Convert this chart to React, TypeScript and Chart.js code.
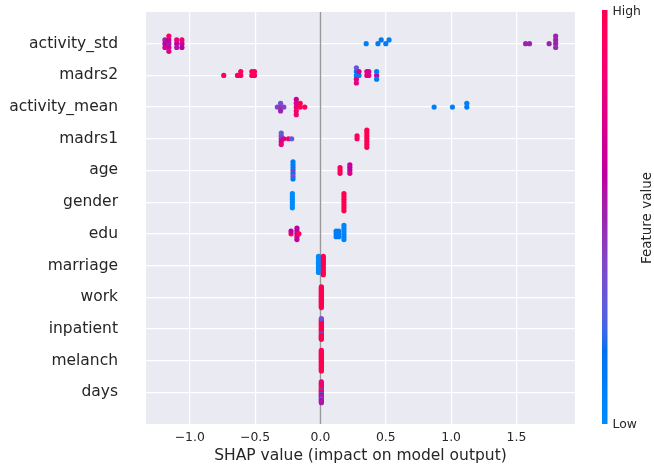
import React, { useEffect, useRef } from "react";
import { Chart, registerables } from "chart.js";

Chart.register(...registerables);

// ---------- data ----------
const features = [
  "activity_std",
  "madrs2",
  "activity_mean",
  "madrs1",
  "age",
  "gender",
  "edu",
  "marriage",
  "work",
  "inpatient",
  "melanch",
  "days",
];

const xTickValues = [-1.0, -0.5, 0.0, 0.5, 1.0, 1.5];
const xMin = -1.335;
const xMax = 1.948;

// SHAP values and normalised feature values (0 = low, 1 = high) per feature
const activityStdShap = [-1.19, -1.19, -1.19, -1.16, -1.16, -1.16, -1.16, -1.16, -1.1, -1.1, -1.1, -1.06, -1.06, -1.06, 0.35, 0.44, 0.465, 0.5, 0.525, 1.57, 1.6, 1.75, 1.8, 1.8, 1.8, 1.8];
const activityStdValue = [0.6, 0.55, 0.7, 0.55, 0.6, 0.65, 0.95, 0.75, 0.6, 0.8, 0.55, 0.65, 0.85, 0.6, 0.08, 0.1, 0.12, 0.1, 0.08, 0.5, 0.5, 0.5, 0.5, 0.52, 0.48, 0.5];

const madrs2Shap = [-0.74, -0.635, -0.61, -0.61, -0.525, -0.525, -0.505, -0.505, 0.275, 0.275, 0.275, 0.275, 0.275, 0.295, 0.295, 0.355, 0.355, 0.37, 0.37, 0.43, 0.43, 0.43];
const madrs2Value = [0.95, 0.95, 0.95, 0.9, 0.95, 0.95, 0.95, 0.92, 0.1, 0.15, 0.75, 0.3, 0.8, 0.1, 0.7, 0.8, 0.75, 0.75, 0.7, 0.65, 0.1, 0.1];

const activityMeanShap = [-0.33, -0.305, -0.305, -0.305, -0.28, -0.185, -0.185, -0.185, -0.185, -0.185, -0.155, -0.155, -0.12, 0.87, 1.01, 1.12, 1.12];
const activityMeanValue = [0.4, 0.45, 0.35, 0.5, 0.4, 0.8, 0.7, 0.9, 0.65, 0.85, 0.95, 1.0, 0.95, 0.08, 0.08, 0.1, 0.08];

const madrs1Shap = [-0.3, -0.3, -0.3, -0.3, -0.3, -0.28, -0.245, -0.22, 0.28, 0.28, 0.355, 0.355, 0.355, 0.355, 0.355, 0.355, 0.355];
const madrs1Value = [0.5, 0.4, 0.7, 0.3, 0.8, 0.75, 0.8, 0.3, 0.95, 0.95, 1, 1, 1, 1, 1, 1, 1];

const ageShap = [-0.21, -0.21, -0.21, -0.21, -0.21, -0.21, -0.21, 0.15, 0.15, 0.15, 0.225, 0.225, 0.225, 0.225];
const ageValue = [0.45, 0.1, 0.15, 0.1, 0.35, 0.1, 0.12, 0.95, 0.95, 0.95, 0.65, 0.6, 0.7, 0.62];

const genderShap = [-0.215, -0.215, -0.215, -0.215, -0.215, -0.215, 0.18, 0.18, 0.18, 0.18, 0.18, 0.18, 0.18];
const genderValue = [0, 0, 0, 0, 0, 0, 1, 1, 1, 1, 1, 1, 1];

const eduShap = [-0.225, -0.225, -0.18, -0.18, -0.18, -0.18, -0.18, -0.165, 0.12, 0.12, 0.12, 0.14, 0.14, 0.14, 0.18, 0.18, 0.18, 0.18, 0.18, 0.18];
const eduValue = [0.95, 0.6, 0.6, 0.65, 0.7, 0.6, 0.62, 0.95, 0.1, 0.1, 0.1, 0.08, 0.1, 0.1, 0.05, 0.05, 0.08, 0.05, 0.05, 0.05];

const marriageShap = [-0.015, -0.015, -0.015, -0.015, -0.015, -0.015, -0.015, -0.015, 0.022, 0.022, 0.022, 0.022, 0.022, 0.022, 0.022, 0.022, 0.022];
const marriageValue = [0, 0, 0, 0, 0, 0, 0, 0, 1, 1, 1, 1, 1, 1, 1, 1, 1];

const workShap = [0.007, 0.007, 0.007, 0.007, 0.007, 0.007, 0.007, 0.007, 0.007, 0.007, 0.007, 0.007, 0.007, 0.007, 0.007, 0.007, 0.007, 0.007, 0.007, 0.007, 0.007];
const workValue = [1, 1, 1, 1, 1, 1, 1, 1, 1, 1, 1, 1, 1, 1, 1, 1, 1, 1, 1, 1, 1];

const inpatientShap = [0.007, 0.007, 0.007, 0.007, 0.007, 0.007, 0.007, 0.007, 0.007, 0.007, 0.007, 0.007, 0.007, 0.007, 0.007, 0.007, 0.007, 0.007, 0.007, 0.007, 0.007];
const inpatientValue = [1, 1, 1, 1, 1, 1, 0.9, 1, 1, 1, 0.3, 1, 1, 1, 1, 1, 1, 1, 1, 0.35, 1];

const melanchShap = [0.007, 0.007, 0.007, 0.007, 0.007, 0.007, 0.007, 0.007, 0.007, 0.007, 0.007, 0.007, 0.007, 0.007, 0.007, 0.007, 0.007, 0.007, 0.007, 0.007, 0.007];
const melanchValue = [1, 1, 1, 1, 1, 1, 1, 1, 1, 1, 1, 1, 1, 1, 1, 1, 1, 1, 1, 0.95, 1];

const daysShap = [0.007, 0.007, 0.007, 0.007, 0.007, 0.007, 0.007, 0.007, 0.007, 0.007, 0.007, 0.007, 0.007, 0.007, 0.007, 0.007, 0.007, 0.007, 0.007, 0.007, 0.007];
const daysValue = [0.55, 0.9, 0.8, 1, 0.3, 1, 0.6, 0.95, 0.5, 0.2, 0.7, 1, 0.45, 0.9, 0.25, 0.85, 0.6, 0.95, 0.7, 0.8, 0.55];

const shapByFeature = [activityStdShap, madrs2Shap, activityMeanShap, madrs1Shap, ageShap, genderShap, eduShap, marriageShap, workShap, inpatientShap, melanchShap, daysShap];
const valueByFeature = [activityStdValue, madrs2Value, activityMeanValue, madrs1Value, ageValue, genderValue, eduValue, marriageValue, workValue, inpatientValue, melanchValue, daysValue];

// ---------- colour map (SHAP red_blue, interpolated in LCH) ----------
function lch2rgb(L: number, C: number, h: number): [number, number, number] {
  const a = C * Math.cos(h);
  const b = C * Math.sin(h);
  const fy = (L + 16) / 116;
  const fx = fy + a / 500;
  const fz = fy - b / 200;
  const finv = (t: number) => (t * t * t > 0.008856 ? t * t * t : (t - 16 / 116) / 7.787);
  const X = 0.95047 * finv(fx);
  const Y = 1.0 * finv(fy);
  const Z = 1.08883 * finv(fz);
  const r = 3.2406 * X - 1.5372 * Y - 0.4986 * Z;
  const g = -0.9689 * X + 1.8758 * Y + 0.0415 * Z;
  const bl = 0.0557 * X - 0.204 * Y + 1.057 * Z;
  const gam = (v: number) => {
    const c = v <= 0.0031308 ? 12.92 * v : 1.055 * Math.pow(Math.max(v, 0), 1 / 2.4) - 0.055;
    return Math.round(Math.min(1, Math.max(0, c)) * 255);
  };
  return [gam(r), gam(g), gam(bl)];
}

function redBlue(t: number): string {
  const u = Math.min(1, Math.max(0, t));
  const L = u < 0.5 ? 54 + (40 - 54) * (u / 0.5) : 40 + (54 - 40) * ((u - 0.5) / 0.5);
  const C = 70 + (90 - 70) * u;
  const h = 4.6588 + (0.35470565 + 2 * Math.PI - 4.6588) * u;
  const [r, g, b] = lch2rgb(L, C, h);
  return `rgb(${r},${g},${b})`;
}

// ---------- beeswarm offsets (same algorithm as shap) ----------
function swarmOffsets(vals: number[]): number[] {
  const nbins = 100;
  const mn = Math.min(...vals);
  const mx = Math.max(...vals);
  const quant = vals.map((v) => Math.round((nbins * (v - mn)) / (mx - mn + 1e-8)));
  const inds = vals.map((_, i) => i).sort((a, b) => quant[a] - quant[b] || a - b);
  const ys = new Array(vals.length).fill(0);
  let layer = 0;
  let last = -1;
  for (const ind of inds) {
    if (quant[ind] !== last) layer = 0;
    ys[ind] = Math.ceil(layer / 2) * ((layer % 2) * 2 - 1);
    layer += 1;
    last = quant[ind];
  }
  const m = Math.max(...ys.map((y) => y + 1));
  return ys.map((y) => y * 0.9 * (0.4 / m));
}

const fmtTick = (v: number) => {
  const s = Math.abs(v).toFixed(1);
  return v < 0 ? "\u2212" + s : s;
};

const FONT = "'DejaVu Sans', 'Liberation Sans', sans-serif";
const TEXT = "#262626";

export default function App() {
  const ref = useRef<HTMLCanvasElement | null>(null);

  useEffect(() => {
    if (!ref.current) return;
    const n = features.length;
    const datasets = features.map((name, i) => {
      const vals = shapByFeature[i];
      const offs = swarmOffsets(vals);
      const colors = valueByFeature[i].map((v) => redBlue(v));
      const row = n - 1 - i;
      return {
        label: name,
        data: vals.map((x, k) => ({ x, y: row + offs[k] })),
        pointRadius: 2.6,
        pointHoverRadius: 2.6,
        pointBorderWidth: 0,
        pointBackgroundColor: (ctx: any) => colors[ctx.dataIndex],
        borderColor: "transparent",
      };
    });

    const bgPlugin = {
      id: "bgPlugin",
      beforeDraw(chart: any) {
        const { ctx, chartArea: a } = chart;
        ctx.save();
        ctx.fillStyle = "#EAEAF2";
        ctx.fillRect(a.left, a.top, a.right - a.left, a.bottom - a.top);
        ctx.restore();
      },
      beforeDatasetsDraw(chart: any) {
        const { ctx, chartArea: a } = chart;
        const x0 = Math.round(chart.scales.x.getPixelForValue(0)) + 0.5;
        ctx.save();
        ctx.strokeStyle = "#999999";
        ctx.lineWidth = 1.4;
        ctx.beginPath();
        ctx.moveTo(x0, a.top);
        ctx.lineTo(x0, a.bottom);
        ctx.stroke();
        ctx.restore();
      },
      afterDraw(chart: any) {
        const { ctx, chartArea: a } = chart;
        ctx.save();
        // x axis title
        ctx.fillStyle = TEXT;
        ctx.font = `15.5px ${FONT}`;
        ctx.textAlign = "center";
        ctx.textBaseline = "middle";
        ctx.fillText("SHAP value (impact on model output)", (a.left + a.right) / 2, a.bottom + 32);

        // colour bar
        const cbLeft = 602;
        const cbW = 5.5;
        const grad = ctx.createLinearGradient(0, a.bottom, 0, a.top - 2);
        for (let s = 0; s <= 40; s++) {
          grad.addColorStop(s / 40, redBlue(s / 40));
        }
        ctx.fillStyle = grad;
        ctx.fillRect(cbLeft, a.top - 2, cbW, a.bottom - a.top + 2);

        ctx.fillStyle = TEXT;
        ctx.font = `12.4px ${FONT}`;
        ctx.textAlign = "left";
        ctx.textBaseline = "middle";
        ctx.fillText("High", cbLeft + cbW + 5, a.top);
        ctx.fillText("Low", cbLeft + cbW + 5, a.bottom + 1);

        ctx.translate(647, (a.top + a.bottom) / 2);
        ctx.rotate(-Math.PI / 2);
        ctx.font = `13.5px ${FONT}`;
        ctx.textAlign = "center";
        ctx.textBaseline = "middle";
        ctx.fillText("Feature value", 0, 0);
        ctx.restore();
      },
    };

    const chart = new Chart(ref.current, {
      type: "scatter",
      data: { datasets: datasets as any },
      options: {
        animation: false,
        responsive: false,
        devicePixelRatio: 1,
        layout: { padding: { left: 0, right: 79, top: 12, bottom: 0 } },
        plugins: {
          legend: { display: false },
          tooltip: { enabled: false },
        },
        scales: {
          x: {
            type: "linear",
            min: xMin,
            max: xMax,
            afterBuildTicks: (s: any) => {
              s.ticks = xTickValues.map((v) => ({ value: v }));
            },
            afterFit: (s: any) => {
              s.height = 44;
              s.paddingLeft = 0;
              s.paddingRight = 0;
            },
            grid: { color: "#ffffff", lineWidth: 1.2, drawTicks: false },
            border: { display: false },
            ticks: {
              padding: 6,
              color: TEXT,
              font: { family: FONT, size: 12.4 },
              maxRotation: 0,
              autoSkip: false,
              callback: (v: any) => fmtTick(Number(v)),
            },
          },
          y: {
            type: "linear",
            min: -1,
            max: features.length,
            afterBuildTicks: (s: any) => {
              s.ticks = features.map((_, i) => ({ value: i }));
            },
            afterFit: (s: any) => {
              s.width = 146;
              s.paddingTop = 0;
              s.paddingBottom = 0;
            },
            grid: { color: "#ffffff", lineWidth: 1.2, drawTicks: false },
            border: { display: false },
            ticks: {
              padding: 28,
              color: TEXT,
              font: { family: FONT, size: 15.5 },
              autoSkip: false,
              callback: (v: any) => features[features.length - 1 - Number(v)] ?? "",
            },
          },
        },
      },
      plugins: [bgPlugin],
    });

    return () => chart.destroy();
  }, []);

  return (
    <div style={{ position: "absolute", left: 0, top: 0, width: 654, height: 468, background: "#ffffff" }}>
      <canvas ref={ref} width={654} height={468} style={{ width: 654, height: 468, display: "block" }} />
    </div>
  );
}
